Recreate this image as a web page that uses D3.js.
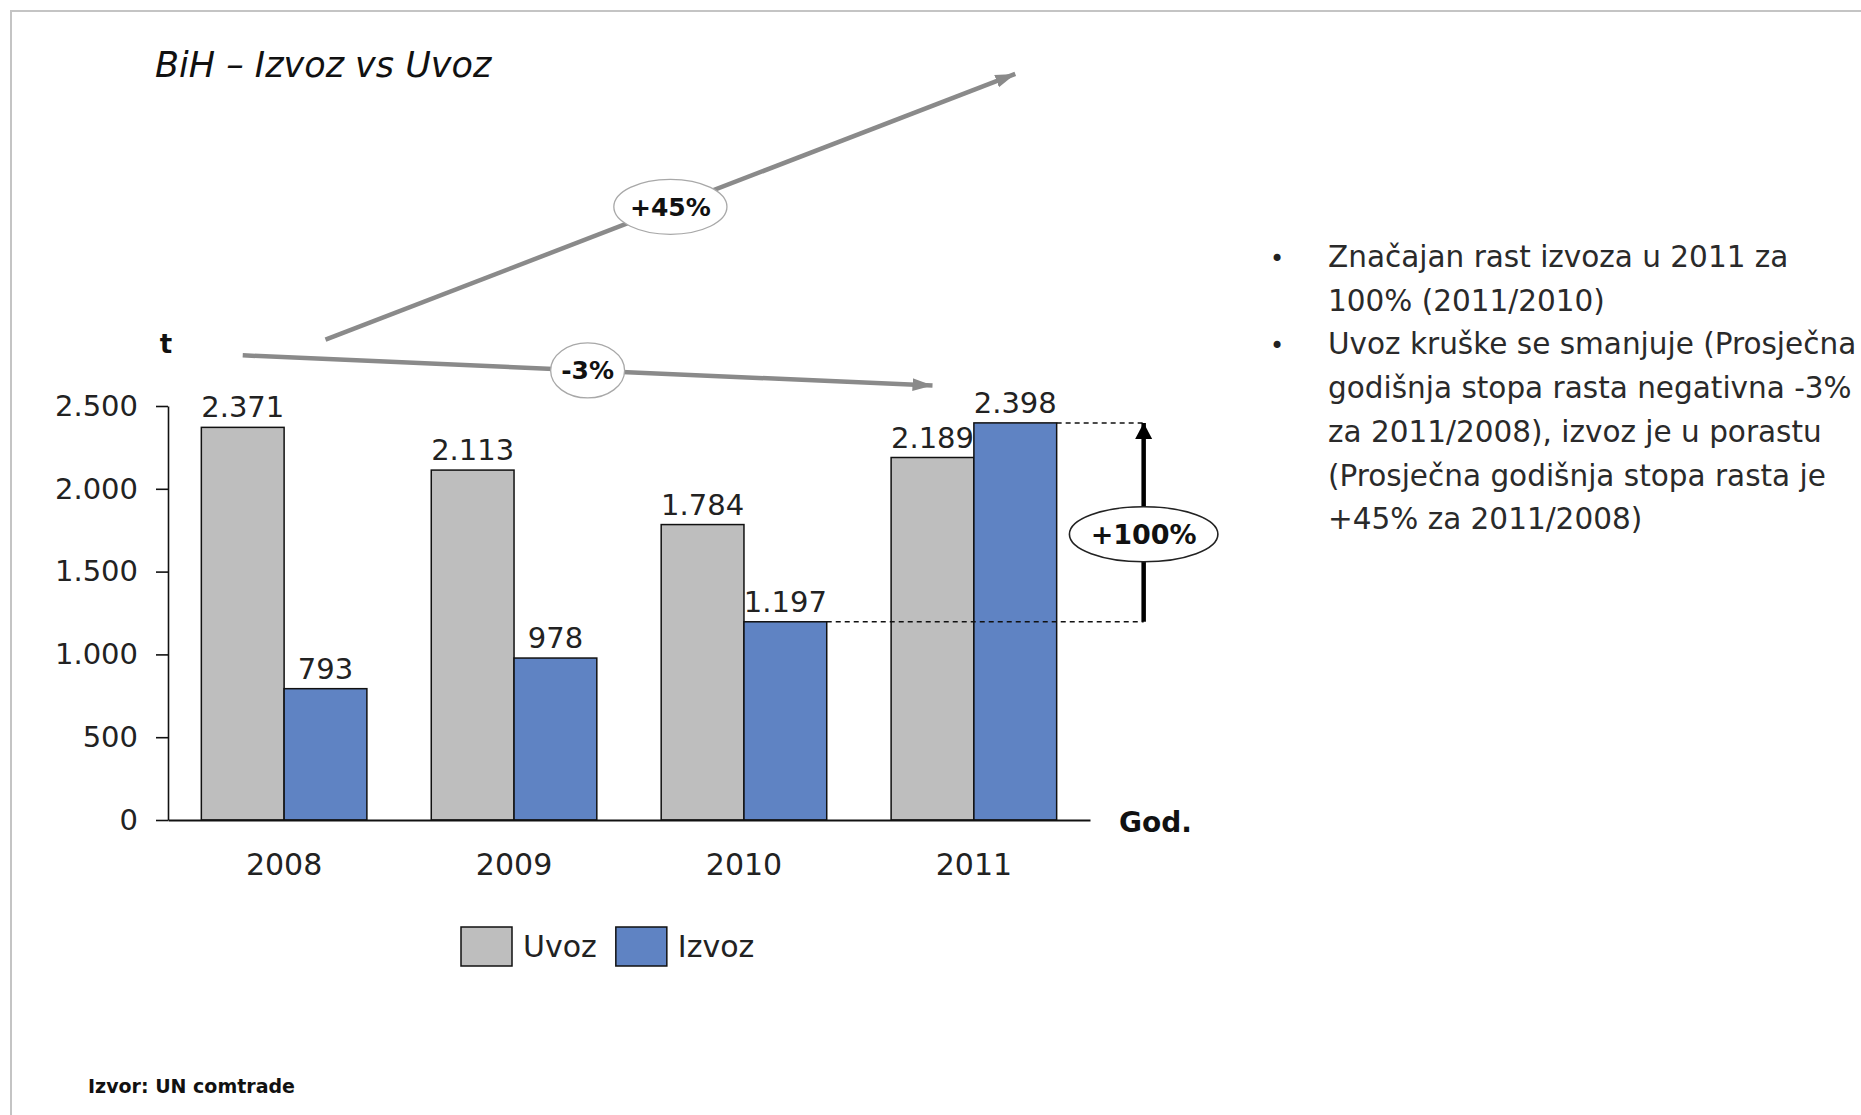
<!DOCTYPE html>
<html><head><meta charset="utf-8">
<script src="https://cdn.jsdelivr.net/npm/d3@7"></script>
<style>body{margin:0;background:#fff} svg{display:block}</style>
</head><body>
<svg id="c" width="1861" height="1115"></svg>
<script>
// ---- data ----
const years = ["2008", "2009", "2010", "2011"];
const seriesNames = ["Uvoz", "Izvoz"];
const uvoz = [2371, 2113, 1784, 2189];
const izvoz = [793, 978, 1197, 2398];
const yTicks = [0, 500, 1000, 1500, 2000, 2500];
const titleText = "BiH – Izvoz vs Uvoz";
const yLabel = "t";
const xLabel = "God.";
const sourceText = "Izvor: UN comtrade";
const uvozTrendLabel = "-3%";
const izvozTrendLabel = "+45%";
const lastGrowthLabel = "+100%";
const bullets = [
  ["Značajan rast izvoza u 2011 za", "100% (2011/2010)"],
  ["Uvoz kruške se smanjuje (Prosječna", "godišnja stopa rasta negativna -3%",
   "za 2011/2008), izvoz je u porastu", "(Prosječna godišnja stopa rasta je",
   "+45% za 2011/2008)"]
];

// ---- styles ----
const FONT = "'DejaVu Sans', sans-serif";
const colors = {Uvoz: "#bebebe", Izvoz: "#5f83c3"};
const svg = d3.select("#c");
const fmt = d3.formatLocale({decimal: ",", thousands: ".", grouping: [3], currency: ["", ""]}).format(",d");

// frame
svg.append("rect").attr("x", 11).attr("y", 11).attr("width", 1880).attr("height", 1130)
  .attr("fill", "none").attr("stroke", "#c4c4c4").attr("stroke-width", 2);

// scales
const x0 = d3.scaleBand().domain(years).range([168, 1090]).paddingInner(0.28).paddingOuter(0.145);
const x1 = d3.scaleBand().domain(seriesNames).range([0, x0.bandwidth()]);
const y = d3.scaleLinear().domain([0, 2500]).range([820, 406]);

const rows = years.map((yr, i) => ({year: yr, vals: [{name: "Uvoz", v: uvoz[i]}, {name: "Izvoz", v: izvoz[i]}]}));

// title
svg.append("text").attr("x", 155).attr("y", 77).attr("font-family", FONT).attr("font-style", "italic")
  .attr("font-size", 35).attr("fill", "#111").text(titleText);

// bars
const groups = svg.append("g").selectAll("g").data(rows).join("g")
  .attr("transform", d => `translate(${x0(d.year)},0)`);
groups.selectAll("rect").data(d => d.vals).join("rect")
  .attr("x", d => x1(d.name)).attr("width", x1.bandwidth())
  .attr("y", d => y(d.v)).attr("height", d => y(0) - y(d.v))
  .attr("fill", d => colors[d.name]).attr("stroke", "#111").attr("stroke-width", 1.5);
groups.selectAll("text").data(d => d.vals).join("text")
  .attr("x", d => x1(d.name) + x1.bandwidth() / 2).attr("y", d => y(d.v) - 10)
  .attr("text-anchor", "middle").attr("font-family", FONT).attr("font-size", 29).attr("fill", "#222")
  .text(d => fmt(d.v));

// y axis
const ya = svg.append("g").attr("transform", `translate(${x0.range()[0]},0)`)
  .call(d3.axisLeft(y).tickValues(yTicks).tickSize(12).tickPadding(18).tickSizeOuter(0).tickFormat(fmt));
ya.selectAll("text").attr("font-family", FONT).attr("font-size", 29).attr("fill", "#222");
ya.selectAll("line,path").attr("stroke", "#111").attr("stroke-width", 1.6);

// x axis
const xa = svg.append("g").attr("transform", `translate(0,${y(0)})`)
  .call(d3.axisBottom(x0).tickSize(0).tickPadding(34).tickSizeOuter(0));
xa.selectAll("text").attr("font-family", FONT).attr("font-size", 30).attr("fill", "#222");
xa.select("path").attr("stroke", "#111").attr("stroke-width", 1.8);

// axis titles
svg.append("text").attr("x", x0.range()[0] - 2).attr("y", 353).attr("text-anchor", "middle")
  .attr("font-family", FONT).attr("font-weight", "bold").attr("font-size", 26).attr("fill", "#111").text(yLabel);
svg.append("text").attr("x", x0.range()[1] + 29).attr("y", 832)
  .attr("font-family", FONT).attr("font-weight", "bold").attr("font-size", 28).attr("fill", "#111").text(xLabel);

// markers
const defs = svg.append("defs");
defs.append("marker").attr("id", "ag").attr("markerUnits", "userSpaceOnUse")
  .attr("viewBox", "0 -8 20 16").attr("refX", 20).attr("refY", 0)
  .attr("markerWidth", 20).attr("markerHeight", 16).attr("orient", "auto")
  .append("path").attr("d", "M0,-6.5L20,0L0,6.5Z").attr("fill", "#8a8a8a");
defs.append("marker").attr("id", "ab").attr("markerUnits", "userSpaceOnUse")
  .attr("viewBox", "0 -9 16 18").attr("refX", 16).attr("refY", 0)
  .attr("markerWidth", 16).attr("markerHeight", 18).attr("orient", "auto")
  .append("path").attr("d", "M0,-8.5L16,0L0,8.5Z").attr("fill", "#000");

function ovalLabel(cx, cy, label, size, stroke, sw) {
  const g = svg.append("g");
  const e = g.append("ellipse").attr("cx", cx).attr("cy", cy).attr("fill", "#fff")
    .attr("stroke", stroke).attr("stroke-width", sw);
  const t = g.append("text").attr("x", cx).attr("y", cy).attr("dy", "0.36em").attr("text-anchor", "middle")
    .attr("font-family", FONT).attr("font-weight", "bold").attr("font-size", size).attr("fill", "#111").text(label);
  const w = t.node().getComputedTextLength();
  e.attr("rx", w * 0.7).attr("ry", 27.5);
}

function trend(series, vals, offset, label) {
  const cx = i => x0(years[i]) + x1(series) + x1.bandwidth() / 2;
  const xs = cx(0), ys = y(vals[0]) - offset, xe = cx(vals.length - 1), ye = y(vals[vals.length - 1]) - offset;
  svg.append("line").attr("x1", xs).attr("y1", ys).attr("x2", xe).attr("y2", ye)
    .attr("stroke", "#8a8a8a").attr("stroke-width", 4.5).attr("marker-end", "url(#ag)");
  ovalLabel((xs + xe) / 2, (ys + ye) / 2, label, 25, "#a8a8a8", 1.3);
}
trend("Uvoz", uvoz, 72, uvozTrendLabel);
trend("Izvoz", izvoz, 349, izvozTrendLabel);

// +100% bracket
const bx = x0(years[3]) + x1("Izvoz") + x1.bandwidth() + 87;
const yLo = y(izvoz[2]), yHi = y(izvoz[3]);
svg.append("line").attr("x1", x0(years[2]) + x1("Izvoz") + x1.bandwidth()).attr("x2", bx)
  .attr("y1", yLo).attr("y2", yLo).attr("stroke", "#111").attr("stroke-width", 1.5).attr("stroke-dasharray", "5,4");
svg.append("line").attr("x1", x0(years[3]) + x1("Izvoz") + x1.bandwidth()).attr("x2", bx)
  .attr("y1", yHi).attr("y2", yHi).attr("stroke", "#111").attr("stroke-width", 1.5).attr("stroke-dasharray", "5,4");
svg.append("line").attr("x1", bx).attr("x2", bx).attr("y1", yLo).attr("y2", yHi)
  .attr("stroke", "#000").attr("stroke-width", 4.5).attr("marker-end", "url(#ab)");
ovalLabel(bx, yLo - (yLo - yHi) * 0.44, lastGrowthLabel, 27, "#222", 1.6);

// legend
let lx = 461;
seriesNames.forEach(n => {
  svg.append("rect").attr("x", lx).attr("y", 927).attr("width", 51).attr("height", 39)
    .attr("fill", colors[n]).attr("stroke", "#111").attr("stroke-width", 1.5);
  const t = svg.append("text").attr("x", lx + 62).attr("y", 957).attr("font-family", FONT)
    .attr("font-size", 30).attr("fill", "#222").text(n);
  lx += 62 + t.node().getComputedTextLength() + 19;
});

// source
svg.append("text").attr("x", 88).attr("y", 1093).attr("font-family", FONT).attr("font-weight", "bold")
  .attr("font-size", 19).attr("fill", "#111").text(sourceText);

// bullets
let line = 0;
const LH = 43.7;
bullets.forEach(b => {
  svg.append("text").attr("x", 1277).attr("y", 267 + line * LH).attr("text-anchor", "middle")
    .attr("font-family", FONT).attr("font-size", 24).attr("fill", "#222").text("•");
  b.forEach(s => {
    svg.append("text").attr("x", 1328).attr("y", 267 + line * LH).attr("font-family", FONT)
      .attr("font-size", 29.5).attr("fill", "#2a2a2a").text(s);
    line++;
  });
});
</script>
</body></html>
